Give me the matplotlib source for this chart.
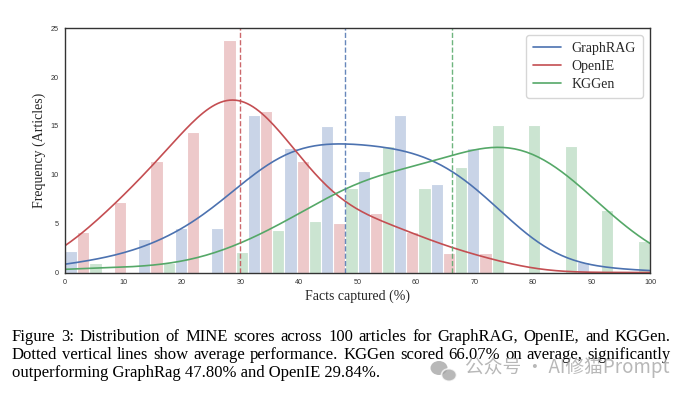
import numpy as np
import pandas as pd
import matplotlib
matplotlib.use("Agg")
import matplotlib.pyplot as plt
import seaborn as sns
from matplotlib.lines import Line2D
from matplotlib.patches import Ellipse

# ---------------- data ----------------
methods = ["GraphRAG", "OpenIE", "KGGen"]
bin_edges = [0, 6.25, 12.5, 18.75, 25, 31.25, 37.5, 43.75, 50,
             56.25, 62.5, 68.75, 75, 81.25, 87.5, 93.75, 100]
graphrag_freq = [2.2, 0, 3.4, 4.6, 4.6, 16.1, 12.7, 15.0, 10.4, 16.1, 9.1, 12.7, 0, 0, 1.1, 0]
openie_freq = [4.1, 7.2, 11.4, 14.4, 23.8, 16.5, 11.4, 5.1, 6.1, 4.1, 2.0, 2.0, 0, 0, 0, 0]
kggen_freq = [1.0, 0, 1.0, 0, 2.1, 4.3, 5.3, 8.7, 13.0, 8.7, 10.8, 15.1, 15.1, 13.0, 6.4, 3.2]
mean_scores = [47.80, 29.84, 66.07]
x_ticks = [0, 10, 20, 30, 40, 50, 60, 70, 80, 90, 100]
y_ticks = [0, 5, 10, 15, 20, 25]

caption_lines = [
    "Figure 3:  Distribution of MINE scores across 100 articles for GraphRAG, OpenIE, and KGGen.",
    "Dotted vertical lines show average performance.  KGGen scored 66.07% on average, significantly",
    "outperforming GraphRag 47.80% and OpenIE 29.84%.",
]
watermark = "公众号 · AI修猫Prompt"

colors = ["#4c72b0", "#c44e52", "#55a868"]
smoothing = [0.75, 0.65, 0.75]   # kde bandwidth adjustment per method

# ---------------- table ----------------
centers = [(a + b) / 2 for a, b in zip(bin_edges[:-1], bin_edges[1:])]
rows = []
for m, freqs in zip(methods, [graphrag_freq, openie_freq, kggen_freq]):
    for c, f in zip(centers, freqs):
        rows.append({"score": c, "freq": f, "method": m})
df = pd.DataFrame(rows)

# ---------------- figure ----------------
sns.set_theme(style="white")
plt.rcParams["font.family"] = ["Liberation Serif", "DejaVu Sans"]

W, H = 692, 395
fig = plt.figure(figsize=(W / 100, H / 100), dpi=100)
ax = fig.add_axes([65 / W, 1 - 272.5 / H, 585 / W, 244.2 / H])

# dodged bars
sns.histplot(data=df, x="score", weights="freq", hue="method", hue_order=methods,
             palette=colors, bins=bin_edges, multiple="dodge", kde=False,
             alpha=0.3, edgecolor="white", linewidth=0.8, legend=False, ax=ax)

# smoothed curves (kde scaled to counts), bars of these calls are invisible
for m, c, bw in zip(methods, colors, smoothing):
    sub = df[df["method"] == m]
    sns.histplot(data=sub, x="score", weights="freq", bins=bin_edges, kde=True,
                 kde_kws=dict(bw_adjust=bw, cut=3, clip=(0, 100)),
                 line_kws=dict(linewidth=1.2, color=c), color=c,
                 alpha=0, linewidth=0, fill=False, element="step", legend=False, ax=ax)

for m, c in zip(mean_scores, colors):
    ax.axvline(m, color=c, linestyle="--", linewidth=1.0, alpha=0.85)

ax.set_xlim(0, 100)
ax.set_ylim(0, 25)
ax.set_xticks(x_ticks)
ax.set_yticks(y_ticks)
ax.tick_params(axis="both", length=0, labelsize=5.2, colors="#333333")
ax.tick_params(axis="x", pad=4.5)
ax.tick_params(axis="y", pad=4.5)
for lab in ax.get_xticklabels() + ax.get_yticklabels():
    lab.set_family("Liberation Sans")
for s in ax.spines.values():
    s.set_color("#333333")
    s.set_linewidth(1.0)

ax.set_xlabel("Facts captured (%)", fontsize=10, family="Liberation Serif", labelpad=3)
ax.set_ylabel("Frequency (Articles)", fontsize=10, family="Liberation Serif", labelpad=3)

handles = [Line2D([], [], color=c, linewidth=1.2) for c in colors]
leg = ax.legend(handles, methods, loc="upper right", prop=dict(family="Liberation Serif", size=10),
                frameon=True, edgecolor="#cccccc", fancybox=True, labelspacing=0.35,
                handlelength=2.0, borderpad=0.5)

# ---------------- caption (justified) ----------------
cap_kw = dict(fontsize=12, family="Liberation Serif", color="black", va="baseline", ha="left")
renderer = fig.canvas.get_renderer()
x0, x1 = 11.7, 670.7
baselines = [341, 359, 377]
for i, (line, yb) in enumerate(zip(caption_lines, baselines)):
    if i < len(caption_lines) - 1:
        words = line.split()
        texts = [fig.text(0, 0, w, **cap_kw) for w in words]
        widths = [t.get_window_extent(renderer).width for t in texts]
        gap = (x1 - x0 - sum(widths)) / (len(words) - 1)
        x = x0
        for t, w in zip(texts, widths):
            t.set_position((x / W, 1 - yb / H))
            x += w + gap
    else:
        fig.text(x0 / W, 1 - yb / H, line, **cap_kw)

# watermark (icon + text)
wm_col = "#a0a0a0"
fig.patches.append(Ellipse((439 / W, 1 - 368 / H), 17 / W, 14 / H, transform=fig.transFigure,
                           facecolor=wm_col, edgecolor="none", alpha=0.75))
fig.patches.append(Ellipse((449 / W, 1 - 375 / H), 15 / W, 12.5 / H, transform=fig.transFigure,
                           facecolor=wm_col, edgecolor="white", linewidth=1.2, alpha=0.75))
fig.text(670 / W, 1 - 367 / H, watermark, fontsize=13.5, color=wm_col, alpha=0.75,
         family=["Noto Sans CJK SC", "DejaVu Sans"], ha="right", va="center")

fig.savefig("out.png", dpi=100)
